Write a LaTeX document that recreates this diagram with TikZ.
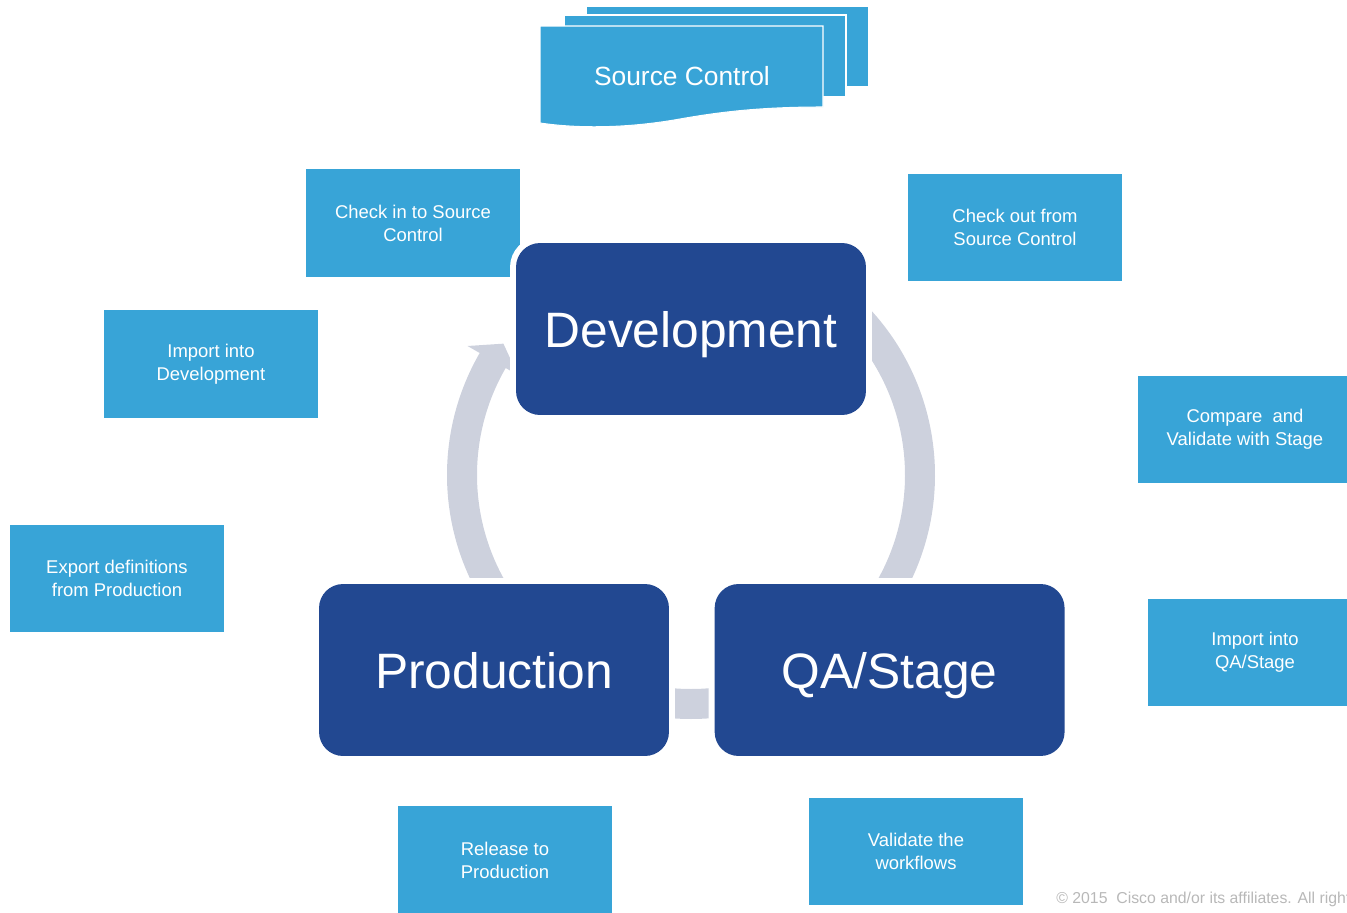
\documentclass[tikz,border=0pt]{standalone}
\usepackage{fontspec}
\setmainfont{Liberation Sans}
\usetikzlibrary{positioning,calc}
\definecolor{stepblue}{HTML}{38A4D7}
\definecolor{envblue}{HTML}{224891}
\definecolor{ringgrey}{HTML}{CDD1DD}
\definecolor{notegrey}{HTML}{B8B8B8}

\begin{document}
\begin{tikzpicture}[x=0.02cm, y=-0.02cm,
    stepbox/.style = {fill=stepblue, text=white, align=center, inner sep=0pt,
        minimum width = 4.28cm, minimum height = 2.16cm,
        font=\fontsize{10.5}{13}\selectfont},
    envbox/.style = {fill=envblue, text=white, inner sep=0pt, rounded corners = 0.48cm,
        minimum width = 7cm, minimum height = 3.44cm,
        text height = 21.5pt, text depth = 0pt,
        font=\fontsize{28.3}{34}\selectfont,
        preaction={draw=white, line width = 6.8pt}},
    ring/.style = {fill=ringgrey},
    sheet/.style = {fill=stepblue, draw=white, line width = 0.6pt}]
\useasboundingbox (0,0) rectangle (1347,913);

\node (ci) [stepbox] at (413,223) {Check in to Source\\Control};
\node (co) [stepbox] at (1015,227.5) {Check out from\\Source Control};
\node (id) [stepbox] at (211,364) {Import into\\Development};
\node (cv) [stepbox] at (1245,429.5) {Compare\ \ and\\Validate with Stage};
\node (ex) [stepbox] at (117,578.5) {Export definitions\\from Production};
\node (iq) [stepbox] at (1255,652.5) {Import into\\QA/Stage};
\node (rp) [stepbox] at (505,860) {Release to\\Production};
\node (vw) [stepbox] at (916,851.5) {Validate the\\workflows};

\filldraw [sheet] (586,6) rectangle (869,87);
\filldraw [sheet] (564,15) rectangle (846,97);
\filldraw [sheet] (540,26) -- (823,26) -- (823,107)
    .. controls (760,107) and (720,112) .. (680,119)
    .. controls (630,128) and (580,129) .. (540,123) -- cycle;
\node (sc) at (682,76) [text=white, font=\fontsize{15}{18}\selectfont] {Source Control};

\coordinate (cyc) at (691,475);
\begin{scope}[shift={(cyc)}, x=0.02cm, y=0.02cm]
\fill [ring] (50:244) arc [start angle=50, end angle=-35, radius=244]
    -- (-35:214) arc [start angle=-35, end angle=50, radius=214] -- cycle;
\fill [ring] (255:244) arc [start angle=255, end angle=285, radius=244]
    -- (285:214) arc [start angle=285, end angle=255, radius=214] -- cycle;
\fill [ring] (215:244) arc [start angle=215, end angle=150, radius=244]
    -- (150:258) -- (145:229) -- (150:200) -- (150:214)
    arc [start angle=150, end angle=215, radius=214] -- cycle;
\end{scope}

\node (dev) [envbox] at (691,329) {Development};
\node (prod) [envbox] at (494,670) {Production};
\node (qa) [envbox, right=0.9cm of prod] {QA/Stage};

\node (cr) [anchor=base west, inner sep=0pt, text=notegrey, font=\fontsize{9}{11}\selectfont]
    at (1056,903) {© 2015\ \ Cisco and/or its affiliates. All rights reserved.};

\end{tikzpicture}
\end{document}
